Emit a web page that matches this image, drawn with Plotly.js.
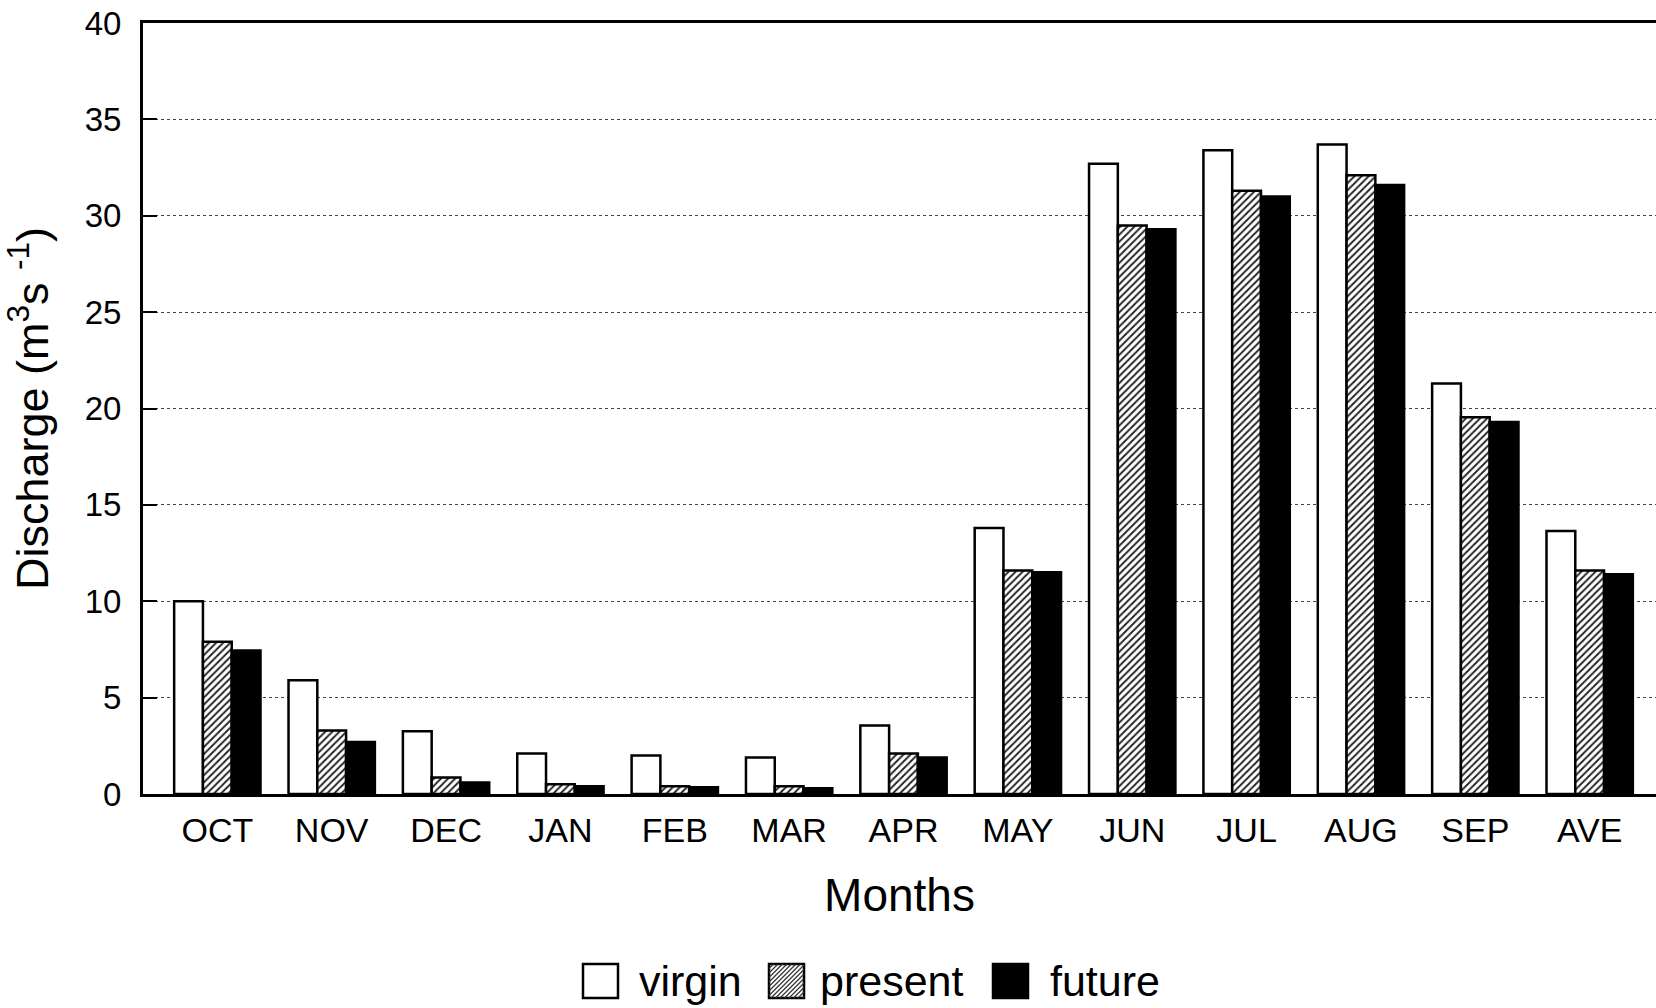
<!DOCTYPE html>
<html>
<head>
<meta charset="utf-8">
<script src="https://cdn.plot.ly/plotly-3.0.1.min.js"></script>
<style>
  html, body { margin: 0; padding: 0; background: #fff; overflow: hidden; }
  #chart { width: 1656px; height: 1008px; }
</style>
</head>
<body>
<div id="chart"></div>
<script>
const months = ["OCT","NOV","DEC","JAN","FEB","MAR","APR","MAY","JUN","JUL","AUG","SEP","AVE"];
const virgin  = [10.0, 5.9, 3.25, 2.1, 2.0, 1.9, 3.55, 13.8, 32.7, 33.4, 33.7, 21.3, 13.65];
const present = [7.9, 3.3, 0.85, 0.5, 0.4, 0.4, 2.1, 11.6, 29.5, 31.3, 32.1, 19.55, 11.6];
const future  = [7.45, 2.7, 0.6, 0.4, 0.35, 0.3, 1.9, 11.5, 29.3, 31.0, 31.6, 19.3, 11.4];
const yTicks  = [0, 5, 10, 15, 20, 25, 30, 35, 40];
const seriesNames = ["virgin", "present", "future"];

const FONT = "Arial, 'Liberation Sans', sans-serif";
const lineStyle = { color: "#000", width: 2.5 };

// plot-area geometry (pixels)
const W = 1656, H = 1008;
const M = { l: 143, r: 0, t: 23, b: 214 };
const PW = W - M.l - M.r, PH = H - M.t - M.b;
const px2x = px => (px - M.l) / PW;
const py2y = py => (H - M.b - py) / PH;

const data = [
  { type: "bar", name: seriesNames[0], x: months, y: virgin,
    marker: { color: "#ffffff", line: lineStyle } },
  { type: "bar", name: seriesNames[1], x: months, y: present,
    marker: { color: "#ffffff", line: lineStyle,
      pattern: { shape: "/", fgcolor: "#222", bgcolor: "#ffffff", size: 5, solidity: 0.38 } } },
  { type: "bar", name: seriesNames[2], x: months, y: future,
    marker: { color: "#000000", line: lineStyle } }
];

// custom legend (large swatches like the original)
const legBoxes = [[583, 618], [769, 804], [993, 1028]];
const legText = [637, 818, 1048];
const legY0 = 964, legY1 = 998;
const fills = ["#ffffff", "#ffffff", "#000000"];
const shapes = [];
const annotations = [];
legBoxes.forEach(function (b, i) {
  shapes.push({ type: "rect", xref: "paper", yref: "paper",
    x0: px2x(b[0]), x1: px2x(b[1]), y0: py2y(legY1), y1: py2y(legY0),
    fillcolor: fills[i], line: { color: "#000", width: 2.5 }, layer: "above" });
  if (i === 1) {
    const w = b[1] - b[0], h = legY1 - legY0, s = 4.5;
    let d = "";
    for (let k = -h; k < w; k += s) {
      const t0 = Math.max(0, -k), t1 = Math.min(h, w - k);
      if (t1 <= t0) continue;
      const xa = b[0] + k + t0, ya = legY1 - t0, xb = b[0] + k + t1, yb = legY1 - t1;
      d += "M" + px2x(xa) + "," + py2y(ya) + "L" + px2x(xb) + "," + py2y(yb);
    }
    shapes.push({ type: "path", xref: "paper", yref: "paper", path: d,
      line: { color: "#333", width: 1.2 }, layer: "above" });
  }
  annotations.push({ xref: "paper", yref: "paper", x: px2x(legText[i]), y: py2y((legY0 + legY1) / 2),
    xanchor: "left", yanchor: "middle", showarrow: false, text: seriesNames[i],
    font: { size: 43, family: FONT, color: "#000" } });
});

const layout = {
  width: W, height: H,
  paper_bgcolor: "#fff", plot_bgcolor: "#fff",
  margin: M,
  font: { family: FONT, color: "#000" },
  barmode: "group", bargap: 0.245, bargroupgap: 0,
  showlegend: false,
  xaxis: {
    type: "category", range: [-0.65, 12.58],
    showline: true, linecolor: "#000", linewidth: 3, mirror: true,
    ticks: "", showgrid: false,
    tickfont: { size: 34, family: FONT, color: "#000" },
    ticklabelstandoff: 4,
    title: { text: "Months", font: { size: 46, family: FONT, color: "#000" }, standoff: 32 }
  },
  yaxis: {
    range: [0, 40], tickvals: yTicks, ticktext: yTicks.map(String),
    showline: true, linecolor: "#000", linewidth: 3, mirror: false,
    ticks: "inside", ticklen: 14, tickwidth: 1.5, tickcolor: "#000",
    showgrid: true, gridcolor: "#444", gridwidth: 1, griddash: "dot",
    zeroline: false,
    tickfont: { size: 33, family: FONT, color: "#000" },
    ticklabelstandoff: 12,
    title: { text: "Discharge (m<sup>3</sup>s <sup>-1</sup>)", font: { size: 45, family: FONT, color: "#000" }, standoff: 24 }
  },
  shapes: shapes,
  annotations: annotations
};

Plotly.newPlot("chart", data, layout, { displayModeBar: false, responsive: false });
</script>
</body>
</html>
